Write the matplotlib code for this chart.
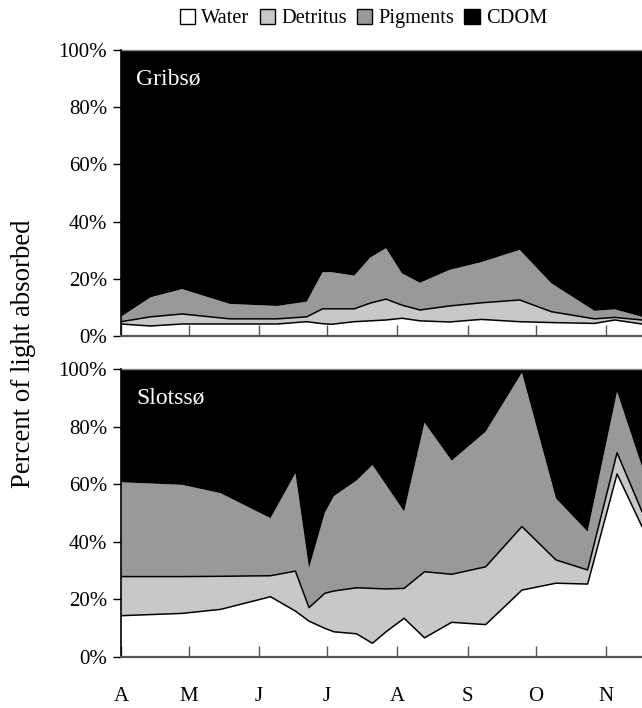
import matplotlib
matplotlib.use("Agg")
import matplotlib.pyplot as plt
from matplotlib.patches import Patch

plt.rcParams['font.family'] = ['Liberation Serif', 'DejaVu Serif']

# sampling days (day of year) and percent of light absorbed by each component
gribso_days = [91, 104, 118, 139, 160, 173, 180, 184, 194, 201, 208, 215, 223, 236, 250, 267, 281, 300, 309, 321]
gribso_water = [4.2, 3.5, 4.2, 4.2, 4.2, 5.0, 4.3, 4.1, 5.0, 5.3, 5.6, 6.2, 5.3, 4.9, 5.8, 5.0, 4.7, 4.4, 5.6, 4.2]
gribso_detritus = [0.8, 3.2, 3.5, 1.8, 1.8, 1.7, 5.2, 5.4, 4.5, 6.2, 7.3, 4.6, 3.8, 5.6, 5.8, 7.6, 3.8, 1.6, 0.9, 1.4]
gribso_pigments = [1.7, 6.8, 8.7, 5.2, 4.5, 5.3, 12.8, 12.8, 11.6, 15.9, 17.8, 11.1, 9.5, 12.6, 14.2, 17.5, 9.9, 2.8, 2.8, 1.1]
gribso_cdom = [93.3, 86.5, 83.6, 88.8, 89.5, 88.0, 77.7, 77.7, 78.9, 72.6, 69.3, 78.1, 81.4, 76.9, 74.2, 69.9, 81.6, 91.2, 90.7, 93.3]

slotsso_days = [91, 118, 135, 157, 168, 174, 181, 185, 195, 202, 208, 216, 225, 237, 252, 268, 283, 297, 310, 321]
slotsso_water = [14.3, 15.1, 16.5, 20.9, 15.9, 12.4, 9.9, 8.7, 8.0, 4.7, 8.7, 13.4, 6.6, 12.0, 11.2, 23.2, 25.6, 25.3, 63.6, 45.3]
slotsso_detritus = [13.6, 12.8, 11.5, 7.3, 13.9, 4.7, 12.2, 14.2, 16.0, 19.1, 14.9, 10.4, 23.0, 16.7, 20.1, 22.1, 8.1, 4.9, 7.4, 5.2]
slotsso_pigments = [32.8, 31.9, 28.9, 20.0, 34.0, 13.7, 28.0, 33.0, 37.3, 42.9, 36.2, 26.7, 51.8, 39.5, 47.0, 53.5, 21.4, 13.3, 21.2, 15.6]
slotsso_cdom = [39.3, 40.2, 43.1, 51.8, 36.2, 69.2, 49.9, 44.1, 38.7, 33.3, 40.2, 49.5, 18.6, 31.8, 21.7, 1.2, 44.9, 56.5, 7.8, 33.9]

components = ['Water', 'Detritus', 'Pigments', 'CDOM']
colors = ['#ffffff', '#c8c8c8', '#999999', '#000000']

month_days = [91, 121, 152, 182, 213, 244, 274, 305]
month_labels = ['A', 'M', 'J', 'J', 'A', 'S', 'O', 'N']
y_ticks = [0, 20, 40, 60, 80, 100]


def draw_panel(ax, days, water, detritus, pigments, cdom, name, show_months):
    ax.stackplot(days, water, detritus, pigments, cdom, colors=colors, linewidth=0)
    # outline the top of the water and detritus layers
    detritus_top = [w + d for w, d in zip(water, detritus)]
    ax.plot(days, water, color='black', linewidth=1.1)
    ax.plot(days, detritus_top, color='black', linewidth=1.1)

    ax.set_xlim(91, 321)
    ax.set_ylim(0, 100)
    ax.set_yticks(y_ticks)
    ax.set_yticklabels([f'{t}%' for t in y_ticks], fontsize=15)
    ax.tick_params(axis='y', direction='out', length=6, width=1, pad=4)

    ax.set_xticks(month_days)
    if show_months:
        ax.set_xticklabels(month_labels, fontsize=15)
    else:
        ax.set_xticklabels([])
    ax.tick_params(axis='x', direction='in', length=8, width=1, color='#555555', pad=22)

    ax.spines['right'].set_visible(False)
    ax.spines['top'].set_color('#888888')
    ax.spines['top'].set_linewidth(1)
    ax.spines['bottom'].set_color('#555555')
    ax.spines['bottom'].set_linewidth(1.6)
    ax.spines['left'].set_linewidth(1.2)
    ax.spines['bottom'].set_zorder(5)
    ax.spines['left'].set_zorder(5)

    ax.text(0.029, 0.935, name, transform=ax.transAxes, color='white',
            fontsize=17, va='top', ha='left')


fig = plt.figure(figsize=(6.42, 7.08), dpi=100)
ax_top = fig.add_axes([121 / 642, 1 - 336 / 708, 521 / 642, 286 / 708])
ax_bot = fig.add_axes([121 / 642, 1 - 656.8 / 708, 521 / 642, 287.5 / 708])

draw_panel(ax_top, gribso_days, gribso_water, gribso_detritus, gribso_pigments, gribso_cdom,
           'Gribsø', False)
draw_panel(ax_bot, slotsso_days, slotsso_water, slotsso_detritus, slotsso_pigments, slotsso_cdom,
           'Slotssø', True)

fig.text(0.036, 0.5, 'Percent of light absorbed', rotation=90, fontsize=19.3,
         ha='center', va='center')

handles = [Patch(facecolor=c, edgecolor='black', linewidth=1) for c in colors]
fig.legend(handles, components, loc='center', bbox_to_anchor=(0.566, 0.974), ncol=4,
           frameon=False, fontsize=14.7, handlelength=0.75, handleheight=0.75,
           handletextpad=0.3, columnspacing=0.5, borderaxespad=0)

fig.savefig('out.png', dpi=100)
